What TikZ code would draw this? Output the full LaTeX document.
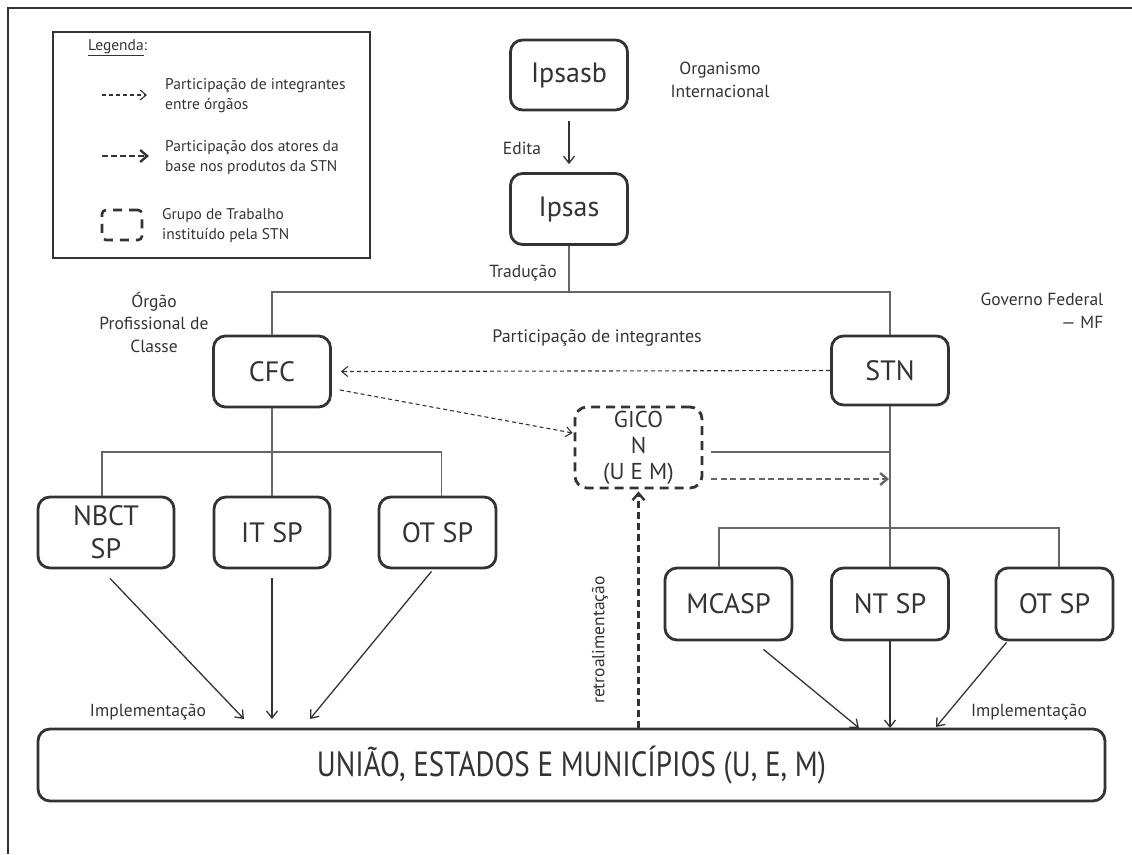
\documentclass[tikz,border=0pt]{standalone}
\usepackage{fontspec}
\setmainfont{PT Sans}
\newfontfamily\cond[FakeStretch=0.83]{PT Sans}
\usetikzlibrary{arrows.meta}
\definecolor{ink}{HTML}{333333}
\definecolor{treeg}{HTML}{666666}
\begin{document}
\begin{tikzpicture}[x=1pt,y=-1pt,
  box/.style={draw=ink,line width=2.8pt,rounded corners=12pt,minimum width=117pt,minimum height=71pt,inner sep=2pt,align=center,text=ink,font=\fontsize{28}{33}\selectfont},
  tree/.style={draw=treeg,line width=1.3pt},
  imp/.style={draw=ink,line width=1.3pt,-{Straight Barb[length=7pt,width=11pt,line width=1.3pt]}},
  thindash/.style={draw=ink,line width=1.1pt,dash pattern=on 4pt off 3pt,-{Straight Barb[length=6pt,width=10pt,line width=1.1pt]}},
  thickdash/.style={line width=2.6pt,dash pattern=on 7pt off 4pt,-{Straight Barb[length=7pt,width=12pt,line width=2.4pt]}},
  lbl/.style={text=ink,font=\fontsize{17.5}{22.5}\selectfont,inner sep=0pt},
  leg/.style={text=ink,font=\fontsize{15.5}{20}\selectfont,inner sep=0pt,align=left,anchor=west}]
\useasboundingbox (0,0) rectangle (1132,854);
% frame
\draw[ink,line width=1.2pt] (8,854) -- (8,8) -- (1132,8);
% legend
\node[draw=ink,line width=1.5pt,minimum width=317pt,minimum height=226pt,inner sep=0pt] (legend) at (211.5,145) {};
\node[leg] (legt) at (88,48) {\underline{Legenda}:};
\coordinate (la1) at (102,95); \coordinate (lb1) at (147,95);
\draw[thindash] (la1) -- (lb1);
\node[leg] (l1) at (165,96) {Participação de integrantes\\entre órgãos};
\coordinate (la2) at (102,156); \coordinate (lb2) at (149,156);
\draw[thickdash,ink,dash pattern=on 6pt off 3pt] (la2) -- (lb2);
\node[leg] (l2) at (165,158) {Participação dos atores da\\base nos produtos da STN};
\node[draw=ink,line width=2.6pt,dash pattern=on 9pt off 7pt,rounded corners=4pt,minimum width=40pt,minimum height=30pt,inner sep=0pt] (lg) at (122,225) {};
\node[leg] (l3) at (162,226) {Grupo de Trabalho\\instituído pela STN};
% top
\node[box,minimum height=70pt] (ipsasb) at (569,75) {Ipsasb};
\node[lbl,align=center] (org) at (720,80) {Organismo\\Internacional};
\node[box] (ipsas) at (569,209) {Ipsas};
\draw[imp] ([yshift=-10pt]ipsasb.south) -- ([yshift=8pt]ipsas.north);
\node[lbl] (edita) at (522,148) {Edita};
\coordinate (hbar) at (569,292);
\draw[tree] (ipsas.south) -- (hbar);
\node[lbl] (trad) at (523,273) {Tradução};
% CFC & STN
\node[box] (cfc) at (272,371.5) {CFC};
\node[box,minimum height=69pt] (stn) at (890,370.5) {STN};
\draw[tree] (cfc.north) |- (hbar) -| (stn.north);
\node[lbl,align=center] (orgao) at (154,322) {Órgão\\Profissional de\\Classe};
\node[lbl,align=right] (gov) at (1042,311) {Governo Federal\\--- MF};
\node[lbl,font=\fontsize{18}{22}\selectfont] (part) at (597,338) {Participação de integrantes};
\draw[thindash] (stn.west) -- ([xshift=9pt]cfc.east);
% GICON
\node[box,dash pattern=on 9pt off 6pt,minimum width=127pt,minimum height=81pt,font=\fontsize{23}{26}\selectfont] (gicon) at (638.5,447.5) {GICO\\N\\(U E M)};
\draw[thindash] ([xshift=8pt,yshift=-18.5pt]cfc.east) -- ([xshift=-1pt,yshift=14.5pt]gicon.west);
\coordinate (g1) at (890,452);
\coordinate (g2) at (889,479);
\draw[tree] ([xshift=8pt,yshift=-4.5pt]gicon.east) -- (g1);
\draw[thickdash,treeg,line width=2.2pt,dash pattern=on 6pt off 3.5pt] ([xshift=8pt,yshift=-31.5pt]gicon.east) -- (g2);
% left children
\node[box,minimum width=136pt] (nbct) at (106,532.5) {NBCT\\SP};
\node[box,minimum width=116pt] (itsp) at (272,532.5) {IT SP};
\node[box] (otsp1) at (437.5,532.5) {OT SP};
\coordinate (lbranch) at (272,452);
\draw[tree] (cfc.south) -- (itsp.north);
\draw[tree] ([xshift=-4pt]nbct.north) |- (lbranch) -| ([xshift=4pt]otsp1.north);
% right children
\node[box,minimum width=127pt,minimum height=72pt] (mcasp) at (728.5,604) {MCASP};
\node[box,minimum height=72pt] (ntsp) at (890,604) {NT SP};
\node[box,minimum height=72pt] (otsp2) at (1054.5,604) {OT SP};
\coordinate (rbranch) at (890,528);
\draw[tree] (stn.south) -- (ntsp.north);
\draw[tree] ([xshift=-9.5pt]mcasp.north) |- (rbranch) -| ([xshift=4.5pt]otsp2.north);
% bottom
\node[box,minimum width=1067pt,minimum height=72pt,font=\cond\fontsize{35}{40}\selectfont] (uem) at (571.5,765) {UNIÃO, ESTADOS E MUNICÍPIOS (U, E, M)};
\coordinate (u1) at (244,719); \coordinate (u2) at (272,719); \coordinate (u3) at (310,719);
\coordinate (u4) at (859,728); \coordinate (u5) at (890,728); \coordinate (u6) at (936,727);
\draw[imp] ([xshift=4pt,yshift=-9pt]nbct.south) -- (u1);
\draw[imp] ([yshift=-9pt]itsp.south) -- (u2);
\draw[imp] ([xshift=-6pt,yshift=-2pt]otsp1.south) -- (u3);
\draw[imp] ([xshift=35pt,yshift=-8pt]mcasp.south) -- (u4);
\draw[imp] (ntsp.south) -- (u5);
\draw[imp] ([xshift=-48pt,yshift=-1pt]otsp2.south) -- (u6);
\node[lbl] (imp1) at (148,712) {Implementação};
\node[lbl] (imp2) at (1029,712) {Implementação};
\draw[thickdash,ink,line width=2.6pt,dash pattern=on 7pt off 4pt] (gicon.south |- uem.north) -- ([yshift=-2pt]gicon.south);
\node[lbl,rotate=90] (retro) at (600,640) {retroalimentação};
\end{tikzpicture}
\end{document}
